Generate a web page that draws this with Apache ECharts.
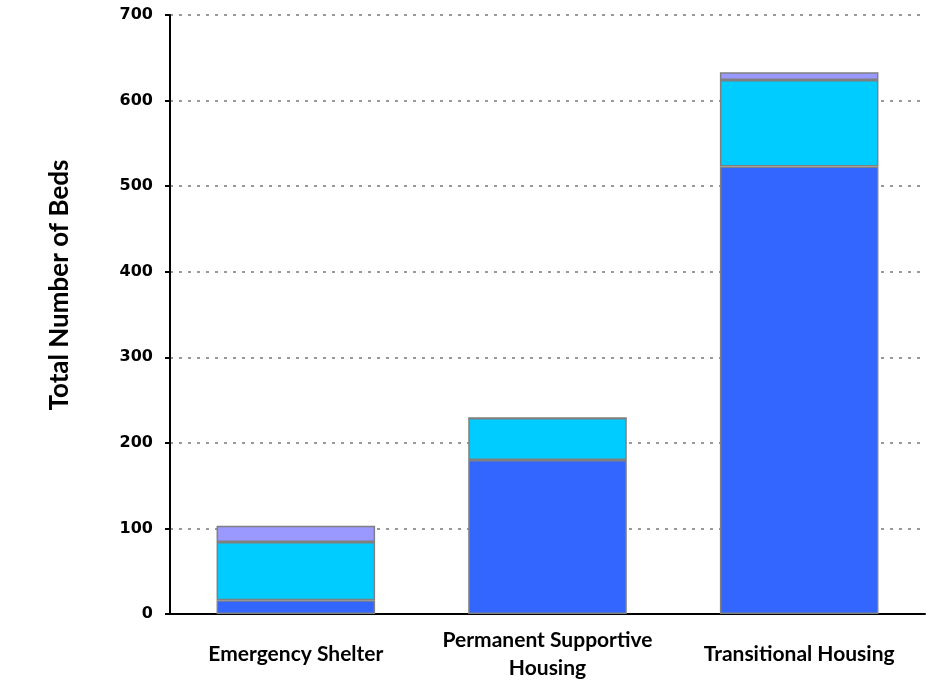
<!DOCTYPE html>
<html><head><meta charset="utf-8">
<script src="https://cdn.jsdelivr.net/npm/echarts@6/dist/echarts.min.js"></script>
<style>html,body{margin:0;padding:0;background:#fff}#c{width:929px;height:682px}</style>
</head><body><div id="c"></div>
<script>
const categories = ['Emergency Shelter', 'Permanent Supportive\nHousing', 'Transitional Housing'];
const seriesBottom = [16, 180, 523];
const seriesMiddle = [68, 49, 101];
const seriesTop = [19, 0, 9];
const yTicks = { min: 0, max: 700, interval: 100 };
const axisTitle = 'Total Number of Beds';

const border = { borderColor: '#808080', borderWidth: 1.5 };
const chart = echarts.init(document.getElementById('c'), null, { renderer: 'canvas' });
chart.setOption({
  animation: false,
  grid: { left: 170, right: 4, top: 15, bottom: 67 },
  graphic: [{
    type: 'text', rotation: Math.PI / 2, x: 60, y: 285,
    style: { text: axisTitle, fill: '#000', font: 'bold 26px Lato', textAlign: 'center', textVerticalAlign: 'middle' }
  }],
  xAxis: {
    type: 'category', data: categories,
    axisLine: { lineStyle: { color: '#000', width: 2 } },
    axisTick: { show: false },
    axisLabel: { color: '#000', fontFamily: 'Lato', fontWeight: 'bold', fontSize: 21, margin: 40, lineHeight: 28, verticalAlign: 'middle', interval: 0 }
  },
  yAxis: {
    type: 'value', min: yTicks.min, max: yTicks.max, interval: yTicks.interval,
    axisLine: { show: true, lineStyle: { color: '#000', width: 2 } },
    axisTick: { show: true, length: 5, lineStyle: { color: '#000', width: 2 } },
    axisLabel: { color: '#000', fontFamily: 'DejaVu Sans', fontWeight: 'bold', fontSize: 16, margin: 17 },
    splitLine: { lineStyle: { color: '#999', type: [3, 6], width: 2 } }
  },
  series: [
    { type: 'bar', stack: 's', data: seriesBottom, barWidth: '63%', itemStyle: Object.assign({ color: '#3366FF' }, border) },
    { type: 'bar', stack: 's', data: seriesMiddle, itemStyle: Object.assign({ color: '#00CCFF' }, border) },
    { type: 'bar', stack: 's', data: seriesTop, itemStyle: Object.assign({ color: '#9999FF' }, border) }
  ]
});
</script></body></html>
